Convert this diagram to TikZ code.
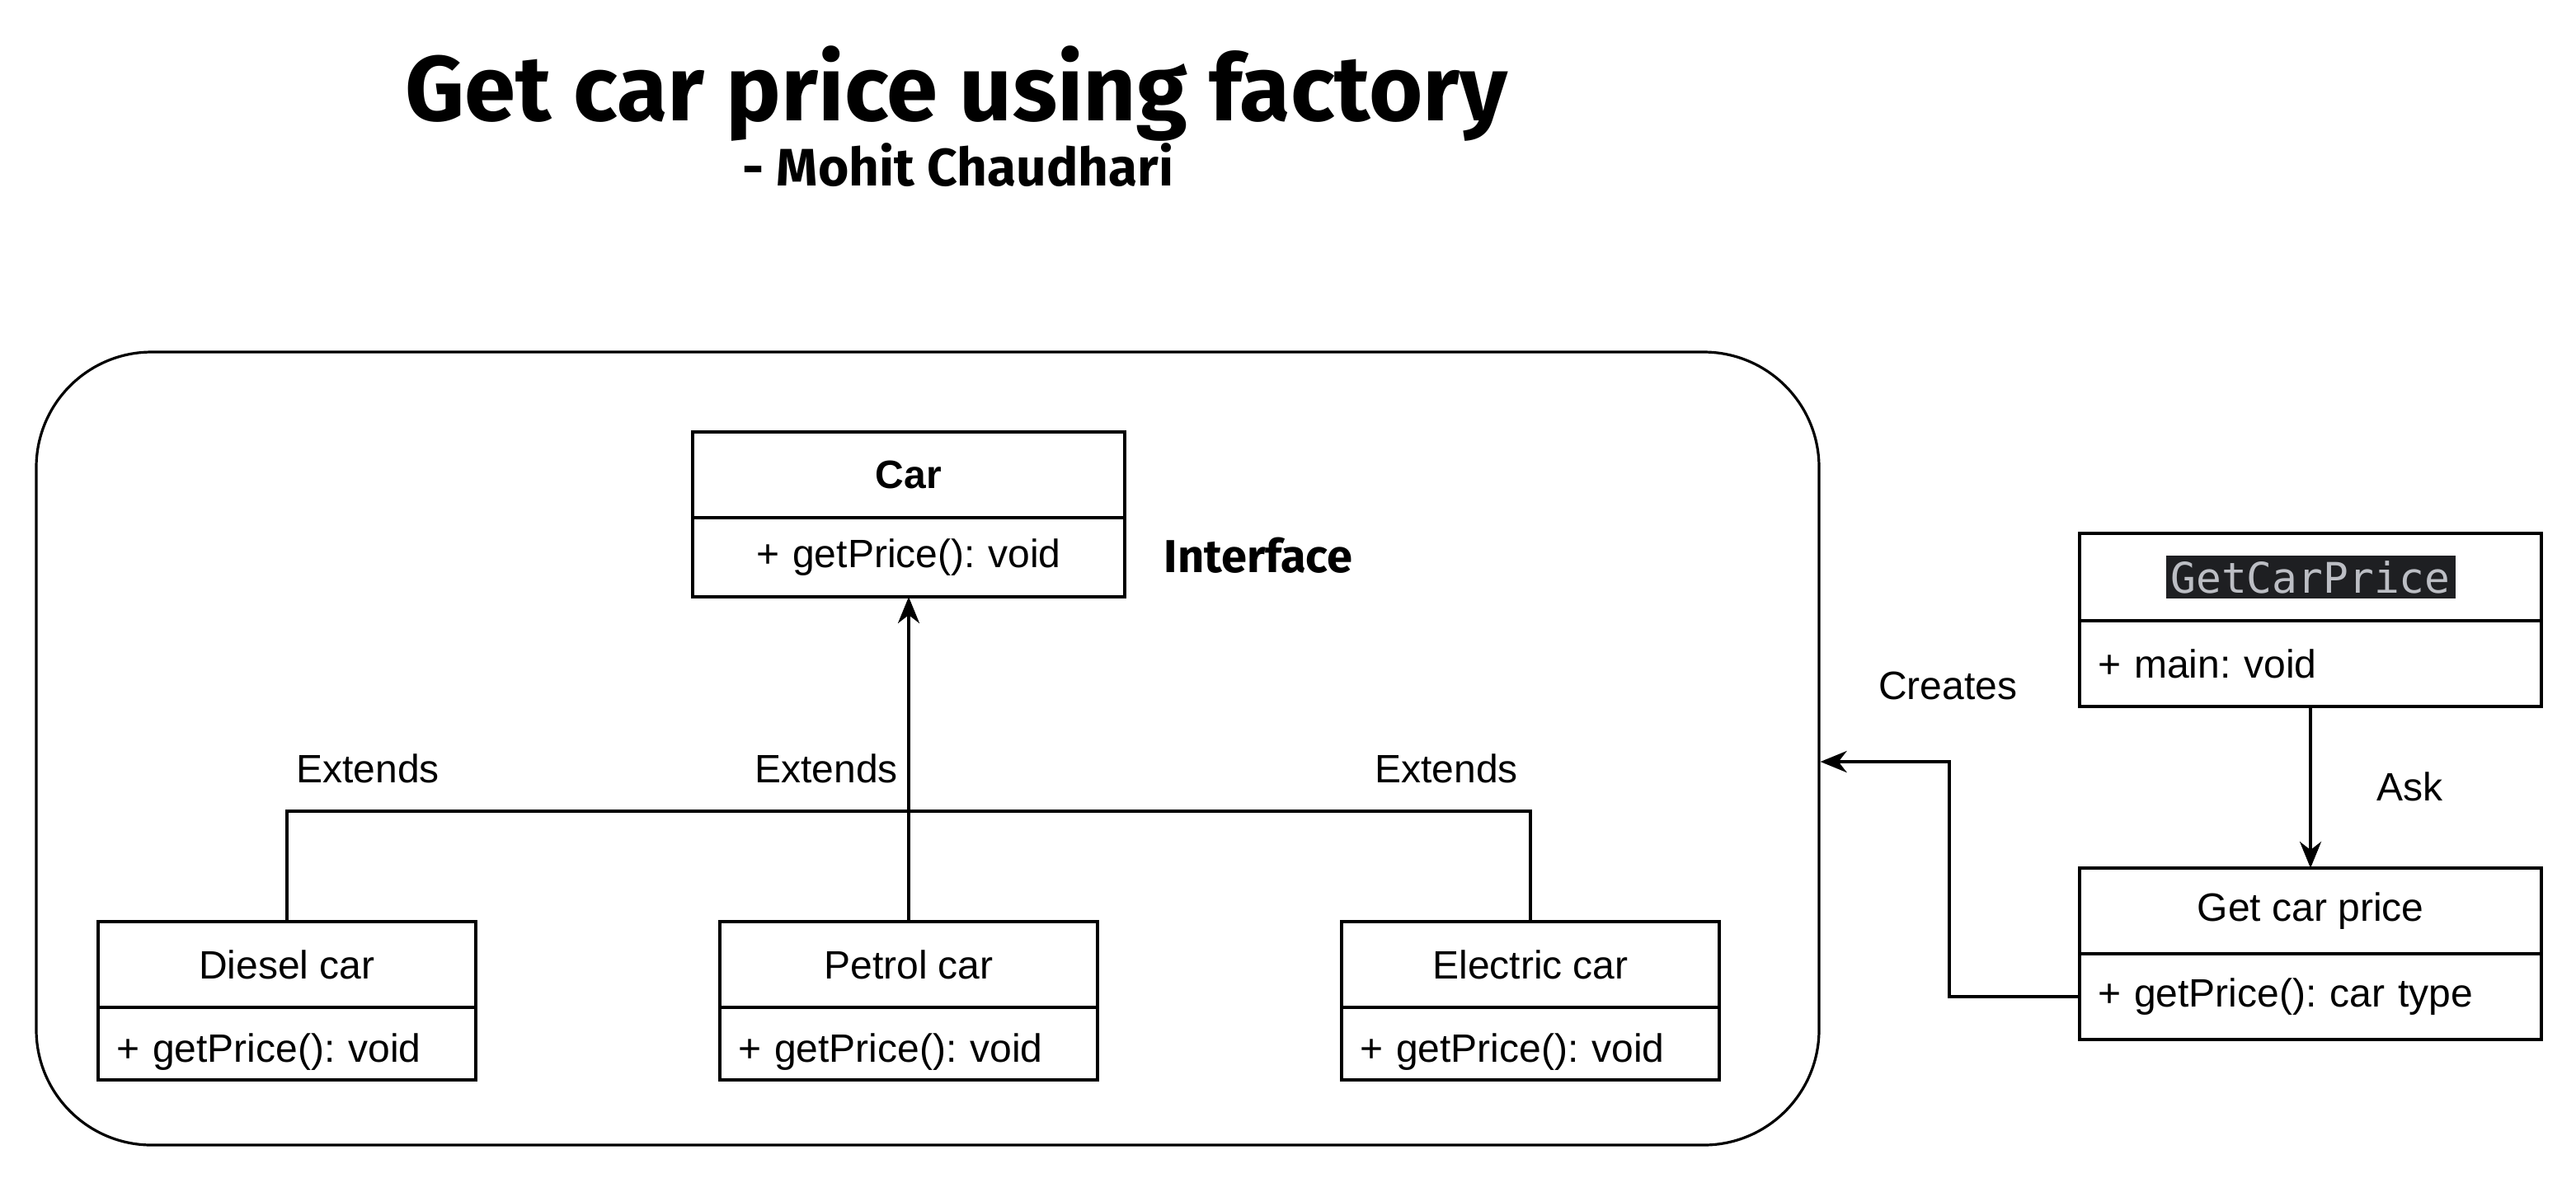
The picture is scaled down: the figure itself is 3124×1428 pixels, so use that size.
\documentclass[tikz,border=0pt]{standalone}
\usepackage{fontspec}
\setmainfont{Liberation Sans}
\newfontfamily\comicfont{Fira Sans}
\newfontfamily\codefont{DejaVu Sans Mono}
\usepackage{xcolor}
\usepackage{tikz}
\usetikzlibrary{arrows.meta, positioning, calc}

\definecolor{codebg}{HTML}{1E1F22}
\definecolor{codefg}{HTML}{BCBEC4}
\frenchspacing

\begin{document}
\begin{tikzpicture}[
                x=0.25pt, y=-0.25pt,
                font=\fontsize{12pt}{14pt}\selectfont,
                umlhead/.style={rectangle, draw, line width=1pt, outer sep=0pt, inner sep=0pt, minimum height=26pt},
                umlbody/.style={rectangle, draw, line width=1pt, outer sep=0pt, inner xsep=5.5pt, inner ysep=0pt, align=left},
                carbody/.style={umlbody, text width=103.5pt, minimum height=22pt, text height=12.5pt, text depth=1.5pt},
                container/.style={rectangle, draw, line width=0.8pt, rounded corners=35pt},
                label/.style={inner sep=0pt},
                link/.style={line width=1pt},
                arrow/.style={line width=1pt, -{Stealth[length=8pt, width=6.5pt, inset=2.5pt]}}
            ]
                \useasboundingbox (0,0) rectangle (3124,1428);

                % Title
                \node[anchor=base, font=\comicfont\bfseries\fontsize{28pt}{30pt}\selectfont] (title) at (1160,146) {Get car price using factory};
                \node[anchor=base, font=\comicfont\bfseries\fontsize{16pt}{18pt}\selectfont] (author) at (1162,225) {- Mohit Chaudhari};

                % Factory frame
                \node[container, minimum width=540.5pt, minimum height=240.5pt] (factory) at (1125,908) {};

                % Interface
                \node[umlhead, minimum width=131pt, font=\fontsize{12pt}{14pt}\selectfont\bfseries] (carhead) at (1102,576) {Car};
                \node[umlbody, below=0pt of carhead, text width=120pt, align=center, minimum height=24pt] (carbody) {+ getPrice(): void};
                \node[label, font=\comicfont\bfseries\fontsize{14pt}{16pt}\selectfont] (iface) at (1526,674) {Interface};

                % Concrete cars
                \node[umlhead, minimum width=114.5pt, below=98.5pt of carbody] (petrolhead) {Petrol car};
                \node[carbody, below=0pt of petrolhead] (petrolbody) {+ getPrice(): void};
                \node[umlhead, minimum width=114.5pt, left=74pt of petrolhead] (dieselhead) {Diesel car};
                \node[carbody, below=0pt of dieselhead] (dieselbody) {+ getPrice(): void};
                \node[umlhead, minimum width=114.5pt, right=74pt of petrolhead] (electrichead) {Electric car};
                \node[carbody, below=0pt of electrichead] (electricbody) {+ getPrice(): void};

                % Extends
                \coordinate (junction) at ($(petrolhead.north)+(0,-134)$);
                \draw[link] (dieselhead.north) |- (junction) -| (electrichead.north);
                \draw[arrow] (petrolhead.north) -- (carbody.south);
                \node[label] (ext1) at (446,932) {Extends};
                \node[label] (ext2) at (1002,932) {Extends};
                \node[label] (ext3) at (1754,932) {Extends};

                % Client side
                \node[umlhead, minimum width=140pt, minimum height=26.5pt] (mainhead) at (2802,700)
                    {\setlength{\fboxsep}{1.5pt}\colorbox{codebg}{\codefont\fontsize{12.8pt}{15pt}\selectfont\color{codefg}GetCarPrice}};
                \node[umlbody, below=0pt of mainhead, text width=129pt, minimum height=26pt] (mainbody) {+ main: void};
                \node[umlhead, minimum width=140pt, below=49pt of mainbody] (pricehead) {Get car price};
                \node[umlbody, below=0pt of pricehead, text width=129pt, minimum height=26pt] (pricebody) {+ getPrice(): car type};

                % Ask / Creates
                \draw[arrow] (mainbody.south) -- (pricehead.north);
                \node[label] (ask) at (2922,954) {Ask};
                \coordinate (bend) at (2364,924);
                \draw[arrow] (pricebody.west) -| (bend) -- (factory.east |- bend);
                \node[label] (creates) at (2362,832) {Creates};
            \end{tikzpicture}
\end{document}
